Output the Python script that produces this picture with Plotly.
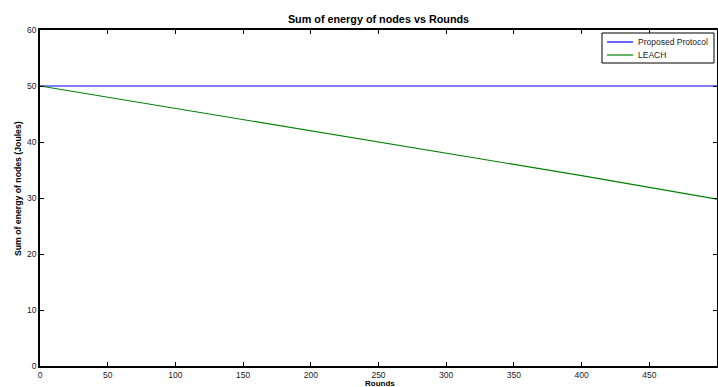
import plotly.graph_objects as go

rounds = [0, 100, 200, 300, 400, 500]
proposed_energy = [50, 50, 50, 50, 50, 50]
leach_energy = [50, 46, 42, 38, 34, 29.8]
series_names = ["Proposed Protocol", "LEACH"]
series_colors = ["#0000ff", "#008000"]
x_ticks = [0, 50, 100, 150, 200, 250, 300, 350, 400, 450, 500]
y_ticks = [0, 10, 20, 30, 40, 50, 60]

fig = go.Figure()
for name, vals, col in zip(series_names, [proposed_energy, leach_energy], series_colors):
    fig.add_trace(go.Scatter(x=rounds, y=vals, mode="lines", name=name,
                             line=dict(color=col, width=1.2), showlegend=False))

font = "Liberation Sans, Arial, sans-serif"
axis_common = dict(showline=True, linecolor="black", linewidth=1.5, mirror="ticks",
                   ticks="inside", ticklen=4, tickcolor="black", showgrid=False, zeroline=False,
                   automargin=False, tickfont=dict(family=font, size=8.5, color="#222"))

fig.update_layout(
    width=718, height=387,
    margin=dict(l=40, r=1, t=30, b=21, autoexpand=False),
    paper_bgcolor="white", plot_bgcolor="white",
    title=dict(text="<b>Sum of energy of nodes vs Rounds</b>", x=378.5 / 718, xanchor="center",
               y=1 - 19 / 387, yanchor="middle", font=dict(family=font, size=10.8, color="black")),
    xaxis=dict(range=[0, 500], tickvals=x_ticks, autorange=False, **axis_common),
    yaxis=dict(range=[0, 60], tickvals=y_ticks, autorange=False, **axis_common),
    showlegend=False,
)

# axis titles
fig.add_annotation(text="<b>Rounds</b>", xref="paper", yref="paper", x=(380 - 40) / 677,
                   y=(366 - 383.5) / 336, xanchor="center", yanchor="middle", showarrow=False,
                   font=dict(family=font, size=8, color="black"))
fig.add_annotation(text="<b>Sum of energy of nodes (Joules)</b>", xref="paper", yref="paper",
                   x=(18 - 40) / 677, y=(366 - 189) / 336, xanchor="center", yanchor="middle",
                   textangle=-90, showarrow=False, font=dict(family=font, size=8.7, color="black"))

# legend box (MATLAB-style, compact)
def px_x(p):
    return (p - 40) / 677

def px_y(p):
    return (366 - p) / 336

fig.add_shape(type="rect", xref="paper", yref="paper", x0=px_x(602), x1=px_x(714),
              y0=px_y(63), y1=px_y(33), line=dict(color="black", width=1), fillcolor="white")
for i, (name, col) in enumerate(zip(series_names, series_colors)):
    yy = px_y(42 + 13 * i)
    fig.add_shape(type="line", xref="paper", yref="paper", x0=px_x(607), x1=px_x(633),
                  y0=yy, y1=yy, line=dict(color=col, width=1.2))
    fig.add_annotation(text=name, xref="paper", yref="paper", x=px_x(636), y=yy,
                       xanchor="left", yanchor="middle", showarrow=False,
                       font=dict(family=font, size=8.5, color="#222"))

fig.write_html("out.html", config={"displayModeBar": False},
               post_script="document.body.style.margin='0';document.body.style.overflow='hidden';")
